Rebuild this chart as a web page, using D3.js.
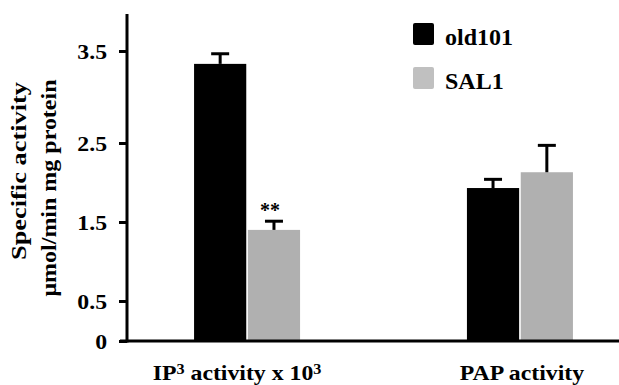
<!DOCTYPE html>
<html>
<head>
<meta charset="utf-8">
<script src="https://cdn.jsdelivr.net/npm/d3@7"></script>
<style>
  body { margin: 0; background: #fff; }
  svg { display: block; font-family: "Liberation Serif", "Times New Roman", serif; font-weight: bold; }
</style>
</head>
<body>
<div id="app"></div>
<script>
const width = 619
const height = 385

const groups = ["IP3", "PAP"]
const series = ["old101", "SAL1"]
const old101 = [3.36, 1.93]
const old101Err = [0.11, 0.11]
const sal1 = [1.40, 2.13]
const sal1Err = [0.11, 0.34]
const yTicks = [0, 0.5, 1.5, 2.5, 3.5]
const colors = ["#000000", "#b0b0b0"]
const legendColors = ["#000000", "#c0c0c0"]

const rows = groups.map((g, i) => ({
    group: g,
    values: [
        { key: "old101", value: old101[i], err: old101Err[i] },
        { key: "SAL1", value: sal1[i], err: sal1Err[i] }
    ]
}))

// the printed tick labels are not evenly spaced, so the scale follows them
const y = d3.scaleLinear()
    .domain([0, 0.5, 1.5, 2.5, 3.5, 3.9])
    .range([341, 301, 222, 143, 51, 14])

const x0 = d3.scalePoint()
    .domain(groups)
    .range([127, 640])
    .padding(0.44)

const x1 = d3.scaleBand()
    .domain(series)
    .range([-53, 53])
    .paddingInner(0.03)

const color = d3.scaleOrdinal().domain(series).range(colors)

// the source uses a wide bold serif, so stretch the text a bit
const widen = (sel, k) => sel.each(function () {
    const w = this.getComputedTextLength()
    d3.select(this).attr("textLength", w * k).attr("lengthAdjust", "spacingAndGlyphs")
})

const svg = d3.select("#app").append("svg")
    .attr("width", width)
    .attr("height", height)

const g = svg.selectAll(".grp")
    .data(rows)
    .join("g")
    .attr("class", "grp")
    .attr("transform", d => `translate(${x0(d.group)},0)`)

g.selectAll("rect")
    .data(d => d.values)
    .join("rect")
    .attr("x", d => x1(d.key))
    .attr("width", x1.bandwidth())
    .attr("y", d => y(d.value))
    .attr("height", d => y(0) - y(d.value))
    .attr("fill", d => color(d.key))

// error bars
const eb = g.selectAll(".err")
    .data(d => d.values)
    .join("g")
    .attr("class", "err")
    .attr("transform", d => `translate(${x1(d.key) + x1.bandwidth() / 2},0)`)

eb.append("line")
    .attr("y1", d => y(d.value))
    .attr("y2", d => y(d.value + d.err))
    .attr("stroke", "#000")
    .attr("stroke-width", 3)

eb.append("line")
    .attr("x1", -9).attr("x2", 9)
    .attr("y1", d => y(d.value + d.err))
    .attr("y2", d => y(d.value + d.err))
    .attr("stroke", "#000")
    .attr("stroke-width", 3)

// significance mark
g.filter(d => d.group === "IP3").append("text")
    .attr("x", x1("SAL1") + x1.bandwidth() / 2 - 4)
    .attr("y", y(sal1[0] + sal1Err[0]) - 4)
    .attr("text-anchor", "middle")
    .attr("font-size", 20)
    .text("**")

// axes
svg.append("line")
    .attr("x1", 127).attr("x2", 127)
    .attr("y1", y(3.9)).attr("y2", y(0) + 1.5)
    .attr("stroke", "#000").attr("stroke-width", 3)

svg.append("line")
    .attr("x1", 120).attr("x2", width)
    .attr("y1", y(0)).attr("y2", y(0))
    .attr("stroke", "#000").attr("stroke-width", 3)

const yAxis = svg.append("g")
    .attr("transform", "translate(127,0)")
    .call(d3.axisLeft(y).tickValues(yTicks).tickSize(8).tickPadding(12)
        .tickFormat(d => d === 0 ? "0" : d3.format(".1f")(d)))
yAxis.select(".domain").remove()
yAxis.selectAll(".tick line").attr("stroke-width", 3)
yAxis.selectAll("text")
    .attr("font-family", "'Liberation Serif', 'Times New Roman', serif")
    .attr("font-weight", "bold")
    .attr("font-size", 22)
    .attr("fill", "#000")
    .call(widen, 1.08)

// x labels
const xl = svg.selectAll(".xl")
    .data(groups)
    .join("text")
    .attr("class", "xl")
    .attr("x", d => x0(d))
    .attr("y", 380)
    .attr("text-anchor", "middle")
    .attr("font-size", 22)
xl.filter(d => d === "IP3").attr("dx", -10).html(
    'IP<tspan dy="-6" font-size="15">3</tspan><tspan dy="6"> activity x 10</tspan><tspan dy="-6" font-size="15">3</tspan>')
xl.filter(d => d === "PAP").attr("dx", 2).text("PAP activity")
xl.call(widen, 1.08)

// y title
const yt = svg.append("text")
    .attr("transform", "translate(0,180) rotate(-90)")
    .attr("text-anchor", "middle")
    .attr("font-size", 20)
yt.append("tspan").attr("x", 9).attr("y", 26)
    .attr("textLength", 178).attr("lengthAdjust", "spacingAndGlyphs")
    .text("Specific activity")
yt.append("tspan").attr("x", -8).attr("y", 56)
    .attr("textLength", 217).attr("lengthAdjust", "spacingAndGlyphs")
    .text("μmol/min mg protein")

// legend
const lg = svg.selectAll(".lg")
    .data(series)
    .join("g")
    .attr("class", "lg")
    .attr("transform", (d, i) => `translate(413,${23 + i * 44})`)
lg.append("rect")
    .attr("width", 21).attr("height", 22).attr("rx", 2)
    .attr("fill", (d, i) => legendColors[i])
lg.append("text")
    .attr("x", 32).attr("y", 22)
    .attr("font-size", 24)
    .text(d => d)
</script>
</body>
</html>
